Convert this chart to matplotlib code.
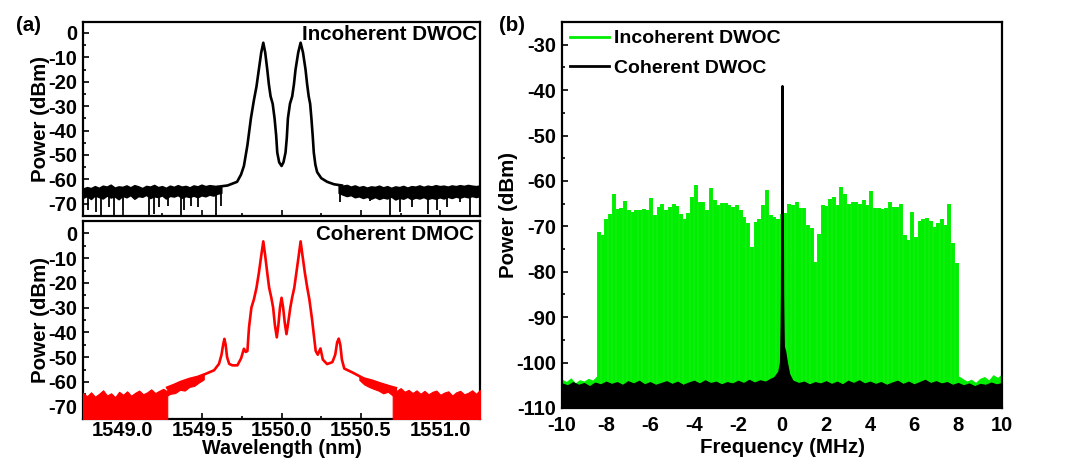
import numpy as np
import matplotlib
matplotlib.use("Agg")
import matplotlib.pyplot as plt
from matplotlib.ticker import MultipleLocator, FormatStrFormatter

plt.rcParams['font.family'] = ['Liberation Sans', 'DejaVu Sans']
plt.rcParams['font.weight'] = 'bold'
plt.rcParams['axes.labelweight'] = 'bold'
plt.rcParams['axes.unicode_minus'] = False

# ---------------- (a) top: incoherent DWOC optical spectrum ----------------
incoh_core = [  # (wavelength nm, power dBm)
    (1549.60, -63.0), (1549.66, -62.5), (1549.70, -61.5), (1549.72, -61.0),
    (1549.745, -58.0), (1549.763, -54.5), (1549.785, -46.0), (1549.807, -35.0),
    (1549.826, -27.5), (1549.842, -22.0), (1549.857, -15.0), (1549.872, -8.0),
    (1549.885, -4.0), (1549.897, -8.0), (1549.91, -15.0), (1549.92, -21.0),
    (1549.931, -26.0), (1549.944, -29.0), (1549.956, -35.0), (1549.966, -42.0),
    (1549.973, -49.0), (1549.985, -53.0), (1550.0, -54.5), (1550.012, -53.0),
    (1550.025, -49.0), (1550.033, -43.0), (1550.04, -35.0), (1550.053, -29.0),
    (1550.067, -26.0), (1550.078, -21.0), (1550.088, -15.0), (1550.105, -8.0),
    (1550.12, -4.0), (1550.135, -8.0), (1550.151, -15.0), (1550.161, -21.0),
    (1550.171, -26.0), (1550.18, -29.0), (1550.188, -35.0), (1550.196, -42.0),
    (1550.203, -49.0), (1550.213, -54.0), (1550.224, -57.0), (1550.25, -59.5),
    (1550.287, -61.0), (1550.33, -62.0), (1550.38, -62.5),
]
incoh_floor_left_hi = [-63.8, -63.2, -63.6, -62.8, -63.5, -62.6, -63.0, -62.2, -63.4, -62.9,
                       -63.1, -62.5, -63.3, -62.4, -62.9, -63.6, -62.7, -63.0, -62.3, -63.2,
                       -62.8, -63.5, -62.6, -63.1, -62.4, -63.0, -62.7, -63.3, -62.5, -62.9,
                       -62.2, -62.8, -62.4, -62.6, -62.8, -63.0]
incoh_floor_left_lo = [-67.5, -66.8, -68.0, -66.5, -67.2, -67.8, -66.6, -67.4, -66.9, -68.1,
                       -66.7, -67.3, -66.4, -67.9, -66.8, -67.1, -66.3, -67.6, -66.9, -67.2,
                       -66.5, -67.8, -66.7, -67.0, -66.4, -67.5, -66.8, -67.2, -66.6, -67.3,
                       -66.5, -66.9, -66.2, -66.6, -65.8, -65.5]
incoh_floor_right_hi = [-62.0, -62.6, -62.3, -63.0, -62.5, -63.2, -62.8, -63.4, -62.9, -63.1,
                        -62.6, -63.3, -62.8, -63.5, -62.9, -63.2, -62.7, -63.4, -62.8, -63.0,
                        -62.5, -63.1, -62.6, -62.9, -62.4, -62.8, -62.6, -63.0, -62.5, -62.8,
                        -62.4, -62.7, -62.3, -62.6, -62.8, -62.5]
incoh_floor_right_lo = [-65.5, -66.2, -66.8, -66.4, -67.3, -66.9, -67.6, -67.1, -67.9, -67.2,
                        -68.0, -67.4, -67.8, -67.0, -68.2, -67.5, -67.9, -67.1, -68.1, -67.4,
                        -67.8, -67.2, -68.0, -67.5, -67.9, -67.3, -67.8, -67.1, -67.6, -67.0,
                        -67.5, -66.9, -67.3, -66.8, -67.2, -66.8]
incoh_spikes = [  # (wavelength, lowest dBm)
    (1548.78, -72.7), (1548.832, -73.4), (1548.864, -75.0), (1548.916, -71.4),
    (1548.947, -75.0), (1549.0, -72.7), (1549.167, -75.0), (1549.198, -74.1),
    (1549.23, -71.4), (1549.282, -70.8), (1549.366, -75.0), (1549.387, -72.7),
    (1549.429, -70.8), (1549.471, -71.4), (1549.586, -75.0), (1549.617, -70.8),
    (1550.37, -69.3), (1550.56, -68.7), (1550.684, -75.0), (1550.747, -73.4),
    (1550.82, -71.4), (1550.925, -74.1), (1550.98, -72.7), (1551.04, -71.4),
    (1551.124, -69.3), (1551.186, -75.0),
]

# ---------------- (a) bottom: coherent DMOC optical spectrum ----------------
coh_core = [
    (1549.28, -62.3), (1549.32, -61.3), (1549.366, -60.0), (1549.42, -58.8),
    (1549.471, -58.0), (1549.52, -56.8), (1549.575, -55.3), (1549.606, -52.7),
    (1549.622, -49.0), (1549.632, -45.0), (1549.64, -42.6), (1549.648, -45.0),
    (1549.657, -50.0), (1549.67, -52.7), (1549.69, -53.3), (1549.722, -53.3),
    (1549.745, -50.5), (1549.763, -46.6), (1549.775, -47.9), (1549.785, -47.5),
    (1549.795, -38.0), (1549.81, -30.0), (1549.826, -26.6), (1549.842, -22.0),
    (1549.857, -16.0), (1549.872, -9.0), (1549.885, -3.2), (1549.897, -9.0),
    (1549.91, -16.0), (1549.922, -22.0), (1549.935, -25.8), (1549.947, -30.0),
    (1549.958, -37.0), (1549.97, -42.0), (1549.98, -37.0), (1549.99, -30.0),
    (1550.0, -26.0), (1550.01, -30.0), (1550.02, -36.0), (1550.031, -40.7),
    (1550.042, -36.0), (1550.055, -30.0), (1550.067, -25.8), (1550.08, -22.0),
    (1550.093, -16.0), (1550.108, -9.0), (1550.12, -3.2), (1550.132, -9.0),
    (1550.147, -16.0), (1550.162, -22.0), (1550.175, -26.6), (1550.192, -34.7),
    (1550.205, -42.0), (1550.215, -47.5), (1550.228, -49.0), (1550.245, -46.5),
    (1550.26, -51.0), (1550.287, -52.8), (1550.32, -52.0), (1550.338, -49.0),
    (1550.35, -44.0), (1550.36, -42.5), (1550.37, -45.0), (1550.38, -51.0),
    (1550.395, -54.6), (1550.45, -56.3), (1550.517, -58.6), (1550.57, -59.5),
    (1550.62, -60.6), (1550.68, -61.8), (1550.72, -62.5),
]
coh_block_left_top = [-64.5, -65.8, -64.2, -66.0, -64.8, -63.4, -65.5, -64.6, -66.2, -64.0,
                      -65.2, -63.8, -65.6, -64.4, -63.5, -65.0, -64.2, -63.0, -64.5, -63.6,
                      -62.8, -63.8]
coh_block_right_top = [-62.8, -63.6, -62.5, -64.0, -63.2, -64.5, -63.4, -64.8, -63.6, -65.0,
                       -64.0, -63.5, -65.2, -64.3, -63.8, -65.5, -64.2, -63.6, -65.0, -64.4,
                       -63.4, -64.8, -63.2]
coh_wing_left = [  # (wavelength, upper, lower)
    (1549.28, -62.3, -65.5), (1549.30, -61.5, -64.8), (1549.33, -61.0, -64.5),
    (1549.36, -60.0, -63.2), (1549.39, -59.6, -63.5), (1549.42, -58.8, -62.0),
    (1549.45, -58.3, -61.6), (1549.48, -57.6, -60.2), (1549.51, -57.0, -59.0),
]
coh_wing_right = [
    (1550.49, -57.5, -59.2), (1550.52, -58.4, -61.0), (1550.55, -59.0, -62.0),
    (1550.58, -59.6, -62.8), (1550.61, -60.3, -63.5), (1550.64, -60.8, -64.6),
    (1550.67, -61.3, -64.0), (1550.70, -62.0, -65.5), (1550.72, -62.5, -65.5),
]

# ---------------- (b) RF spectrum ----------------
comb_heights = [
    -71.3, -72.0, -68.4, -67.3, -62.9, -66.2, -66.0, -64.4, -66.5, -66.9,
    -66.4, -66.4, -66.2, -66.5, -63.8, -67.6, -65.7, -65.1, -66.4, -65.7,
    -65.1, -65.6, -67.3, -68.4, -67.0, -63.6, -61.0, -64.7, -64.7, -66.5,
    -61.6, -64.2, -65.2, -64.9, -64.9, -65.2, -65.8, -65.4, -66.5, -67.9,
    -69.3, -74.6,
    -69.1, -68.4, -65.4, -62.0, -67.6, -68.0, -68.4, -67.3, -67.0, -65.1,
    -65.4, -64.6, -66.0, -66.0, -69.8, -70.4,
    -77.9,
    -71.7, -65.4, -65.5, -64.0, -63.6, -65.2, -61.3, -62.8, -65.1, -64.7,
    -64.7, -65.1, -64.3, -65.2, -62.3, -66.0, -66.0, -66.2, -66.0, -64.6,
    -65.8, -65.7, -65.1, -72.0, -73.0, -66.9, -72.4, -68.8, -68.4, -68.2,
    -68.8, -70.2, -69.3, -68.4, -69.6, -65.1, -73.6, -78.0,
]
comb_first_mhz, comb_last_mhz = -8.32, 7.95
green_floor_left = [-103.8, -104.3, -103.5, -104.6, -103.9, -104.2, -103.6, -104.0, -103.0]   # -10 .. -8.4 MHz
green_floor_right = [-103.0, -103.6, -104.2, -103.8, -104.5, -103.6, -103.2, -104.0, -102.8,
                     -103.4, -102.6]                                                          # 8.0 .. 10 MHz
black_floor_top = [
    -104.6, -105.0, -104.3, -104.9, -104.5, -105.2, -104.4, -104.8, -104.2, -104.7,
    -104.3, -104.9, -104.1, -104.6, -104.0, -104.8, -104.3, -104.9, -104.5, -104.1,
    -104.7, -104.2, -104.9, -104.4, -104.0, -104.6, -103.9, -104.5, -104.2, -104.8,
    -104.3, -104.6, -104.0, -104.5, -103.8, -104.4, -103.9, -104.2, -103.5, -103.0,
    -102.0, -103.2, -104.0, -104.5, -104.2, -104.8, -104.3, -104.6, -104.1, -104.7,
    -104.2, -104.8, -104.0, -104.5, -103.9, -104.6, -104.2, -104.7, -104.3, -104.9,
    -104.4, -104.0, -104.7, -104.2, -104.8, -104.3, -103.8, -104.5, -104.1, -104.6,
    -104.3, -104.9, -104.5, -105.0, -104.6, -105.2, -104.7, -104.9, -104.4, -104.8,
    -104.5,
]  # every 0.25 MHz from -10 to 10
black_center = [  # (MHz, dBm) carrier of the coherent comb
    (-0.45, -104.0), (-0.3, -103.0), (-0.15, -102.0), (-0.07, -100.0), (-0.04, -92.0),
    (-0.025, -85.0), (-0.015, -70.0), (-0.007, -52.0), (0.0, -39.0), (0.007, -52.0),
    (0.015, -70.0), (0.025, -85.0), (0.04, -91.0), (0.06, -96.5), (0.12, -97.5),
    (0.2, -100.0), (0.3, -102.5), (0.45, -104.0),
]

GREEN = '#00ee00'
RED = '#ff0000'
FS_TICK = 14.5
FS_TEXT = 14.8

fig = plt.figure(figsize=(10.8, 4.62), dpi=100)
ax1 = fig.add_axes([0.0769, 0.5325, 0.3676, 0.4199])
ax2 = fig.add_axes([0.0769, 0.0930, 0.3676, 0.4285])
ax3 = fig.add_axes([0.5204, 0.1169, 0.4074, 0.8355])


def style(ax):
    for s in ax.spines.values():
        s.set_linewidth(1.6)
    ax.tick_params(which='both', direction='in', top=False, right=False,
                   labelsize=FS_TICK, width=1.2)
    ax.tick_params(which='major', length=4.5, pad=4)
    ax.tick_params(which='minor', length=2.5)
    for lab in ax.get_xticklabels() + ax.get_yticklabels():
        lab.set_fontweight('bold')


# ---- (a) top
wl, db = zip(*incoh_core)
ax1.plot(wl, db, color='black', lw=1.9, zorder=3)
xl = np.linspace(1548.75, 1549.62, len(incoh_floor_left_hi))
ax1.fill_between(xl, incoh_floor_left_lo, incoh_floor_left_hi, color='black', lw=1.2, zorder=3)
xr = np.linspace(1550.36, 1551.25, len(incoh_floor_right_hi))
ax1.fill_between(xr, incoh_floor_right_lo, incoh_floor_right_hi, color='black', lw=1.2, zorder=3)
sw, sd = zip(*incoh_spikes)
ax1.vlines(sw, sd, -66.0, color='black', lw=1.3, zorder=3)
ax1.set_xlim(1548.75, 1551.25)
ax1.set_ylim(-75, 4.5)
ax1.xaxis.set_major_locator(MultipleLocator(0.5))
ax1.xaxis.set_minor_locator(MultipleLocator(0.25))
ax1.yaxis.set_major_locator(MultipleLocator(10))
ax1.yaxis.set_minor_locator(MultipleLocator(5))
ax1.set_xticklabels([])
style(ax1)
ax1.set_ylabel('Power (dBm)', fontsize=FS_TEXT, fontweight='bold', labelpad=-1)
ax1.text(0.993, 0.935, 'Incoherent DWOC', transform=ax1.transAxes, ha='right', va='center',
         fontsize=FS_TEXT, fontweight='bold')

# ---- (a) bottom
wl, db = zip(*coh_core)
ax2.plot(wl, db, color=RED, lw=1.9, zorder=3)
bl = np.linspace(1548.75, 1549.28, len(coh_block_left_top))
ax2.fill_between(bl, -80, coh_block_left_top, color=RED, lw=0.8, zorder=3)
br = np.linspace(1550.70, 1551.25, len(coh_block_right_top))
ax2.fill_between(br, -80, coh_block_right_top, color=RED, lw=0.8, zorder=3)
for wing in (coh_wing_left, coh_wing_right):
    w, hi, lo = zip(*wing)
    ax2.fill_between(w, lo, hi, color=RED, lw=0.8, zorder=3)
ax2.set_xlim(1548.75, 1551.25)
ax2.set_ylim(-75, 5)
ax2.xaxis.set_major_locator(MultipleLocator(0.5))
ax2.xaxis.set_minor_locator(MultipleLocator(0.25))
ax2.yaxis.set_major_locator(MultipleLocator(10))
ax2.yaxis.set_minor_locator(MultipleLocator(5))
style(ax2)
ax2.tick_params(axis='x', which='major', pad=1.5)
ax2.xaxis.set_major_formatter(FormatStrFormatter('%.1f'))
ax2.set_ylabel('Power (dBm)', fontsize=FS_TEXT, fontweight='bold', labelpad=-1)
ax2.set_xlabel('Wavelength (nm)', fontsize=14.3, fontweight='bold', labelpad=-0.5)
ax2.text(0.985, 0.93, 'Coherent DMOC', transform=ax2.transAxes, ha='right', va='center',
         fontsize=FS_TEXT, fontweight='bold')

# ---- (b)
comb_f = np.linspace(comb_first_mhz, comb_last_mhz, len(comb_heights))
ax3.vlines(comb_f, -110, comb_heights, color=GREEN, lw=2.8, zorder=2)
gl = np.linspace(-10, -8.4, len(green_floor_left))
ax3.fill_between(gl, -110, green_floor_left, color=GREEN, lw=0.8, zorder=2)
gr = np.linspace(8.0, 10, len(green_floor_right))
ax3.fill_between(gr, -110, green_floor_right, color=GREEN, lw=0.8, zorder=2)
bf = np.linspace(-10, 10, len(black_floor_top))
ax3.fill_between(bf, -111, black_floor_top, color='black', lw=0.8, zorder=3)
cf, cd = zip(*black_center)
ax3.fill_between(cf, -111, cd, color='black', lw=1.6, zorder=4)
ax3.plot([], [], color=GREEN, lw=2.0, label='Incoherent DWOC')
ax3.plot([], [], color='black', lw=2.0, label='Coherent DWOC')
ax3.set_xlim(-10, 10)
ax3.set_ylim(-110, -25)
ax3.xaxis.set_major_locator(MultipleLocator(2))
ax3.xaxis.set_minor_locator(MultipleLocator(1))
ax3.yaxis.set_major_locator(MultipleLocator(10))
ax3.yaxis.set_minor_locator(MultipleLocator(5))
style(ax3)
ax3.tick_params(axis='x', which='major', pad=6)
ax3.set_ylabel('Power (dBm)', fontsize=FS_TEXT, fontweight='bold', labelpad=-1)
ax3.set_xlabel('Frequency (MHz)', fontsize=FS_TEXT, fontweight='bold', labelpad=2)
leg = ax3.legend(loc='upper left', bbox_to_anchor=(0.0, 1.0), frameon=False,
                 fontsize=14, handlelength=2.0, handletextpad=0.25,
                 labelspacing=0.6, borderaxespad=0.2, borderpad=0.2)
for t in leg.get_texts():
    t.set_fontweight('bold')

fig.text(0.026, 0.945, '(a)', fontsize=FS_TEXT, fontweight='bold', ha='center', va='center')
fig.text(0.474, 0.945, '(b)', fontsize=FS_TEXT, fontweight='bold', ha='center', va='center')

fig.savefig('out.png', dpi=100)
